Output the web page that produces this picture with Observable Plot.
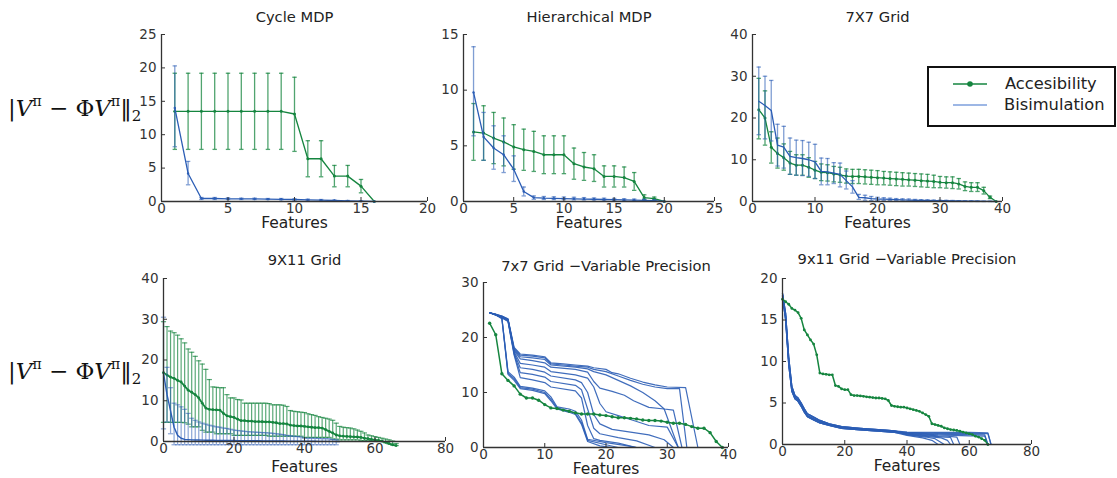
<!DOCTYPE html>
<html>
<head>
<meta charset="utf-8">
<script src="https://cdn.jsdelivr.net/npm/d3@7"></script>
<script src="https://cdn.jsdelivr.net/npm/@observablehq/plot@0.6"></script>
<style>
  body { margin: 0; background: #fff; }
  #root { position: relative; width: 1117px; height: 478px; overflow: hidden; font-family: "DejaVu Sans", sans-serif; }
  .panel { position: absolute; }
  .ylab { position: absolute; font-family: "DejaVu Serif", serif; font-size: 23px; color: #111; white-space: nowrap; line-height: 26px; }
  .ylab sup { font-size: 14px; vertical-align: 10px; }
  .ylab sub { font-size: 15px; vertical-align: -5px; }
  .legend { position: absolute; box-sizing: border-box; border: 2px solid #111; background: #fff; }
  .legend span { position: absolute; font-size: 16.3px; color: #222; line-height: 18px; white-space: nowrap; }
</style>
</head>
<body>
<div id="root"></div>
<script>
// ---------------- DATA ----------------
// Cycle MDP (features 1..16)
const cycleFeatures = d3.range(1, 17);
const cycleAcc   = [13.5,13.5,13.5,13.5,13.5,13.5,13.5,13.5,13.5,13.1,6.4,6.4,3.8,3.8,2.3,0];
const cycleAccLo = [7.8,7.8,7.8,7.8,7.8,7.8,7.8,7.8,7.8,7.5,3.7,3.7,2.2,2.2,1.3,0];
const cycleAccHi = [19.2,19.2,19.2,19.2,19.2,19.2,19.2,19.2,19.2,18.6,9.1,9.1,5.4,5.4,3.3,0];
const cycleBis   = [14.0,4.2,0.45,0.45,0.4,0.4,0.38,0.35,0.33,0.3,0.25,0.2,0.15,0.1,0.05,0];
const cycleBisLo = [8.2,2.5,0.3,0.3,0.3,0.3,0.3,0.3,0.25,0.2,0.15,0.12,0.1,0.06,0.03,0];
const cycleBisHi = [20.3,6.0,0.6,0.6,0.55,0.5,0.5,0.45,0.45,0.4,0.35,0.3,0.2,0.15,0.08,0];

// Hierarchical MDP (features 1..20)
const hierFeatures = d3.range(1, 21);
const hierAcc   = [6.25,6.15,5.7,5.35,4.9,4.65,4.5,4.2,4.2,4.2,3.4,3.1,2.95,2.25,2.25,2.15,1.8,0.35,0.25,0];
const hierAccLo = [3.7,3.7,3.4,3.2,2.9,2.8,2.7,2.5,2.5,2.5,2.0,1.9,1.8,1.3,1.3,1.3,1.0,0.2,0.15,0];
const hierAccHi = [8.8,8.6,8.0,7.5,6.9,6.5,6.3,5.9,5.9,5.9,4.8,4.4,4.2,3.2,3.2,3.1,2.6,0.6,0.4,0];
const hierBis   = [9.8,5.8,4.8,4.2,2.9,0.9,0.35,0.3,0.28,0.26,0.24,0.22,0.2,0.18,0.16,0.14,0.12,0.1,0.08,0];
const hierBisLo = [5.9,3.7,2.9,2.6,1.8,0.5,0.2,0.18,0.17,0.16,0.15,0.14,0.13,0.12,0.1,0.09,0.08,0.06,0.05,0];
const hierBisHi = [13.9,8.0,6.8,5.9,4.1,1.3,0.5,0.45,0.42,0.4,0.38,0.35,0.32,0.3,0.28,0.25,0.22,0.2,0.15,0];

// 7X7 Grid (features 1..39)
const gridFeatures = d3.range(1, 40);
const gridAcc   = [22.0,20.0,13.0,11.5,10.5,9.2,8.7,8.7,8.2,7.5,7.0,6.9,6.6,6.4,6.1,6.0,6.0,5.9,5.8,5.7,5.6,5.5,5.4,5.3,5.2,5.1,5.0,4.9,4.8,4.6,4.5,4.5,4.2,3.6,3.4,3.4,2.6,1.0,0];
const gridAccHi = [29.5,26.5,16.7,15.2,13.8,12.0,11.2,11.2,10.5,9.6,9.0,8.8,8.4,8.2,7.8,7.7,7.7,7.6,7.5,7.4,7.2,7.1,7.0,6.9,6.8,6.7,6.6,6.5,6.3,6.0,5.9,5.9,5.5,4.7,4.5,4.5,3.4,1.3,0];
const gridAccLo = [15.0,13.5,9.2,8.0,7.5,6.5,6.3,6.3,5.8,5.5,5.0,4.9,4.7,4.6,4.4,4.3,4.3,4.2,4.1,4.0,4.0,3.9,3.8,3.7,3.7,3.6,3.5,3.4,3.3,3.3,3.2,3.1,3.0,2.6,2.4,2.4,1.8,0.7,0];
const gridBis   = [24.0,23.0,21.8,13.5,13.0,10.8,10.5,10.3,10.0,9.5,7.2,7.1,6.8,6.5,5.0,3.5,1.0,0.9,0.7,0.6,0.55,0.5,0.45,0.4,0.35,0.3,0.28,0.25,0.22,0.2,0.18,0.15,0.12,0.1,0.08,0.06,0.04,0.02,0];
const gridBisHi = [32.2,30.0,29.0,18.5,18.0,15.2,14.7,14.6,14.2,13.7,10.4,10.3,9.3,9.2,7.3,5.0,1.7,1.5,1.2,1.0,0.9,0.8,0.7,0.65,0.6,0.5,0.45,0.4,0.35,0.3,0.28,0.25,0.2,0.18,0.15,0.12,0.08,0.05,0];
const gridBisLo = [16.0,15.0,14.5,8.5,8.0,6.5,6.3,6.2,6.0,5.5,4.0,4.0,4.3,3.5,3.0,2.0,0.5,0.3,0.2,0.2,0.2,0.2,0.2,0.15,0.1,0.1,0.1,0.1,0.1,0.1,0.08,0.05,0.04,0.03,0.02,0.01,0,0,0];

// 9X11 Grid (features 0..66 / 0..50)
const big9Features = d3.range(0, 67);
const acc9   = [16.9,16.3,15.8,15.5,15.0,14.6,13.6,12.6,12.1,11.5, 10.7,9.4,8.2,7.9,7.8,7.75,7.7,6.9,6.3,6.1, 5.9,5.5,5.1,5.1,5.0,5.0,4.9,4.9,4.85,4.8, 4.8,4.7,4.6,4.4,4.4,4.3,4.0,3.9,3.8,3.8, 3.7,3.6,3.5,3.4,3.4,3.3,2.9,2.5,2.1,1.6, 1.4,1.3,1.25,1.2,1.15,1.1,1.0,0.8,0.7,0.5, 0.4,0.3,0.1,-0.2,-0.5,-0.8,-1.0];
const acc9Hi = [29.4,28.2,27.1,26.7,26.1,25.2,24.2,22.7,21.9,20.9, 19.8,19.0,17.7,15.2,13.4,13.3,13.2,13.2,11.5,10.7, 10.7,10.3,10.2,9.4,9.4,9.4,9.4,9.4,9.4,9.4, 9.3,9.0,9.0,9.0,8.9,8.6,7.6,7.4,7.3,7.2, 7.1,6.8,6.6,6.4,6.1,5.9,5.7,5.5,5.2,4.5, 3.7,3.5,3.4,3.3,3.1,2.8,2.5,2.1,1.6,1.4, 1.2,1.0,0.8,0.6,0.4,0.1,-0.5];
const acc9Lo = [4.7,4.7,4.7,4.7,4.7,4.7,4.6,4.25,3.6,3.6, 3.6,2.75,2.3,2.3,2.3,1.9,1.9,1.9,1.9,1.9, 1.5,1.5,1.5,1.5,1.5,1.5,1.5,1.5,1.5,1.5, 1.3,1.3,1.3,1.3,1.3,1.3,1.3,1.3,1.3,1.3, 1.0,1.0,1.0,1.0,1.0,1.0,1.0,1.0,0.6,0.6, 0.4,0.4,0.4,0.4,0.4,0.4,0.2,0.2,0.2,0.2, 0,0,0,-0.3,-0.6,-0.9,-1.0];
const bis9Features = d3.range(0, 51);
const bis9   = [16.8,11.5,7.5,3.5,1.5,0.8,0.5,0.45,0.4,0.38, 0.36,0.34,0.32,0.3,0.29,0.28,0.27,0.26,0.25,0.24, 0.23,0.22,0.21,0.2,0.2,0.19,0.18,0.17,0.16,0.15, 0.15,0.14,0.13,0.12,0.11,0.1,0.1,0.09,0.08,0.07, 0.06,0.06,0.05,0.05,0.04,0.04,0.03,0.03,0.02,0.01, 0];
const bis9Hi = [30.5,18.2,13.2,9.4,9.0,8.5,7.9,6.9,5.7,5.2, 4.8,4.5,4.25,4.0,3.8,3.6,3.5,3.3,3.2,3.0, 2.8,2.7,2.6,2.5,2.4,2.35,2.3,2.25,2.2,2.15, 2.1,2.0,1.9,1.8,1.7,1.5,1.4,1.3,1.2,1.1, 0.8,0.8,0.8,0.8,0.75,0.7,0.7,0.65,0.5,0.4, 0];
const bis9Lo = [3.1,4.8,1.9,-0.8,-0.8,-0.8,-0.8,-0.8,-0.8,-0.8, -0.8,-0.8,-0.8,-0.8,-0.8,-0.8,-0.8,-0.8,-0.8,-0.8, -0.8,-0.8,-0.8,-0.8,-0.8,-0.8,-0.8,-0.8,-0.8,-0.8, -0.8,-0.8,-0.8,-0.8,-0.8,-0.8,-0.8,-0.8,-0.8,-0.8, -0.8,-0.8,-0.8,-0.8,-0.8,-0.8,-0.8,-0.8,-0.8,-0.8, 0];

// 7x7 Grid - Variable Precision
const vp7Features = d3.range(1, 40);
const vp7Acc = [22.6,20.5,13.4,12.2,11.2,9.7,9.0,9.0,8.6,7.8, 7.2,7.1,6.8,6.6,6.3,6.1,6.1,6.1,5.9,5.8, 5.6,5.4,5.4,5.3,5.2,5.0,4.9,4.9,4.8,4.6, 4.4,4.4,4.2,3.8,3.5,3.5,2.7,1.1,0];
const vp7Bis = [
  [[1,24.5],[2,24.2],[3,23.9],[4,23.4],[5,18.2],[6,17.0],[8,16.8],[10,16.5],[11,15.4],[13,15.2],[15,15.0],[17,14.8],[18,14.5],[20,14.2],[21,13.6],[22,13.4],[24,12.6],[26,11.9],[28,11.4],[30,11.0],[33,10.9],[35,0]],
  [[1,24.5],[2,24.2],[3,23.9],[4,23.3],[5,18.0],[6,16.8],[8,16.6],[10,16.3],[11,15.2],[13,15.0],[15,14.8],[17,14.6],[18,14.2],[20,13.8],[22,13.0],[24,12.2],[26,11.5],[28,11.0],[30,10.7],[32,10.7],[33.2,0],[35,0]],
  [[1,24.5],[2,24.2],[3,23.8],[4,23.3],[5,17.8],[6,16.5],[8,16.3],[10,16.0],[11,15.0],[15,14.6],[17,14.3],[18,13.8],[20,13.2],[22,12.2],[24,11.2],[26,10.0],[28,8.5],[29.5,7.0],[31,6.8],[32.4,0],[35,0]],
  [[1,24.5],[2,24.1],[3,23.8],[4,23.2],[5,17.6],[6,16.1],[8,15.8],[10,15.4],[11,14.6],[15,14.2],[17,13.7],[18,12.0],[19,10.8],[21,10.2],[23,9.5],[24.5,8.5],[27,7.3],[29.5,7.0],[31.8,0],[35,0]],
  [[1,24.5],[2,24.1],[3,23.7],[4,23.2],[5,17.4],[6,15.3],[8,15.0],[10,14.6],[11,13.8],[15,13.2],[17,12.6],[18,11.0],[19,8.0],[20,6.5],[22,5.8],[24.5,4.9],[27,4.0],[30,3.7],[31.8,0],[35,0]],
  [[1,24.5],[2,24.1],[3,23.7],[4,23.1],[5,17.2],[6,14.5],[8,14.2],[10,13.7],[11,13.0],[15,12.3],[16,11.8],[17,10.0],[18,6.0],[19,4.3],[21,3.3],[24,2.8],[27,2.3],[29.5,1.4],[31,0],[35,0]],
  [[1,24.5],[2,24.1],[3,23.6],[4,23.0],[5,17.0],[6,13.6],[8,13.3],[10,12.8],[11,12.0],[15,11.3],[16,10.5],[17,7.0],[18,3.5],[19,2.5],[22,1.8],[25,1.2],[28,0],[35,0]],
  [[1,24.5],[2,24.1],[3,23.6],[4,22.9],[5,16.8],[6,12.7],[8,12.3],[10,11.8],[11,11.0],[15,10.3],[16,9.0],[17,4.0],[18,1.6],[19,1.3],[22,0.8],[25,0],[35,0]],
  [[1,24.5],[2,24.2],[3,23.6],[4,13.8],[5,12.8],[6,11.1],[8,10.8],[10,10.3],[11,9.2],[12,7.4],[14,7.0],[15,6.6],[16,5.0],[17,1.5],[20,0.9],[23,0.4],[25,0],[35,0]],
  [[1,24.5],[2,24.2],[3,23.5],[4,13.5],[5,12.5],[6,10.9],[8,10.6],[10,10.0],[11,8.8],[12,7.2],[14,6.6],[15,6.2],[16,4.5],[17,1.3],[20,0.5],[22,0],[35,0]],
  [[1,24.5],[2,24.1],[3,23.4],[4,13.3],[5,12.2],[6,10.7],[8,10.4],[10,9.8],[11,8.5],[12,7.0],[14,6.4],[15,6.0],[16,4.2],[17,1.1],[19,0.3],[21,0],[35,0]]
];

// 9x11 Grid - Variable Precision
const vp9Features = d3.range(0, 67);
const vp9Acc = [17.5,17.2,16.9,16.4,16.2,15.9,15.2,13.8,13.2,12.6, 12.1,10.8,8.6,8.5,8.45,8.4,8.4,7.1,7.0,6.7, 6.6,6.6,6.0,5.9,5.9,5.85,5.8,5.75,5.7,5.65, 5.6,5.6,5.55,5.5,5.3,4.7,4.6,4.55,4.5,4.5, 4.4,4.3,4.2,4.1,4.0,3.8,3.6,3.4,2.5,2.4, 2.3,2.2,2.0,1.9,1.8,1.75,1.7,1.6,1.5,1.4, 1.3,1.2,1.0,0.9,0.7,0.5,0];
const vp9HeadA = [[0,18.2],[1,15.8],[2,10.5],[3,7.0],[4,5.9],[5,5.6],[6,5.0],[7,4.3],[8,3.7],[10,3.3],[12,2.9],[15,2.5],[19,2.15],[25,1.95],[33,1.75],[36,1.65]];
const vp9HeadB = [[0,18.0],[1,15.4],[2,10.0],[3,6.7],[4,5.7],[5,5.4],[6,4.8],[7,4.1],[8,3.5],[10,3.1],[12,2.75],[15,2.4],[19,2.05],[25,1.85],[33,1.65],[36,1.55]];
const vp9HeadC = [[0,17.8],[1,15.0],[2,9.6],[3,6.4],[4,5.5],[5,5.2],[6,4.6],[7,3.9],[8,3.35],[10,2.95],[12,2.6],[15,2.3],[19,1.95],[25,1.75],[33,1.55],[36,1.45]];
const vp9Tails = [
  [[40,1.5],[50,1.45],[60,1.45],[66,1.4],[67,0]],
  [[40,1.45],[50,1.35],[60,1.3],[66,1.3],[67,0]],
  [[40,1.4],[50,1.25],[60,1.2],[65,1.15],[66,0],[67,0]],
  [[40,1.35],[50,1.15],[60,1.05],[65,1.0],[66,0],[67,0]],
  [[40,1.3],[50,1.05],[53,1.0],[56,0.9],[57,0],[67,0]],
  [[40,1.25],[48,1.0],[52,0.9],[54,0.85],[55,0],[67,0]],
  [[40,1.2],[47,0.95],[51,0.8],[53,0.5],[54,0],[67,0]],
  [[40,1.15],[46,0.9],[49,0.7],[52,0],[67,0]],
  [[40,1.1],[45,0.8],[48,0.5],[50,0],[67,0]]
];

// ---------------- STYLE ----------------
const GREEN = "#15853f";
const BLUE = "#2b5db5";
const cap = { draw(ctx, size) { const r = Math.sqrt(size / Math.PI); ctx.moveTo(-r, 0); ctx.lineTo(r, 0); } };

function rowsOf(xs, ys, lo, hi) {
  return xs.map((x, i) => ({ x, y: ys[i], lo: lo ? lo[i] : undefined, hi: hi ? hi[i] : undefined }));
}
function errBars(rows, color, op, r, sw = 1) {
  const rs = rows.filter(d => d.hi > d.lo);
  return [
    Plot.ruleX(rs, { x: "x", y1: "lo", y2: "hi", stroke: color, strokeOpacity: op, strokeWidth: sw }),
    Plot.dot(rs, { x: "x", y: "lo", symbol: cap, r, stroke: color, strokeOpacity: op, fill: "none", strokeWidth: sw }),
    Plot.dot(rs, { x: "x", y: "hi", symbol: cap, r, stroke: color, strokeOpacity: op, fill: "none", strokeWidth: sw })
  ];
}
function seriesLine(rows, color, sw, dotR) {
  const m = [Plot.line(rows, { x: "x", y: "y", stroke: color, strokeWidth: sw })];
  if (dotR) m.push(Plot.dot(rows, { x: "x", y: "y", r: dotR, fill: color, stroke: "none" }));
  return m;
}
function multiLines(lines, color, sw, op) {
  const flat = [];
  lines.forEach((pts, id) => pts.forEach(([x, y]) => flat.push({ id, x, y })));
  return Plot.line(flat, { x: "x", y: "y", z: "id", stroke: color, strokeWidth: sw, strokeOpacity: op });
}

const root = document.getElementById("root");

function panel({ x0, x1, yb, yt, xDomain, yDomain, xTicks, yTicks, title, titleDy, featDy, marks }) {
  const ml = 40, mr = 16, mt = 36, mb = 44;
  const W = ml + (x1 - x0) + mr, H = mt + (yb - yt) + mb;
  const svg = Plot.plot({
    width: W, height: H,
    marginLeft: ml, marginRight: mr, marginTop: mt, marginBottom: mb,
    x: { domain: xDomain },
    y: { domain: yDomain },
    style: { fontFamily: "DejaVu Sans", fontSize: "13px", color: "#222", background: "transparent", overflow: "visible" },
    marks: [
      ...marks,
      Plot.ruleX([xDomain[0]], { y1: yDomain[0], y2: yDomain[1], stroke: "#333", strokeWidth: 1.3 }),
      Plot.ruleY([yDomain[0]], { x1: xDomain[0], x2: xDomain[1], stroke: "#333", strokeWidth: 1.3 }),
      Plot.axisX({ ticks: xTicks, tickSize: -4, tickPadding: 6, label: null, color: "#333", fontSize: 13.5 }),
      Plot.axisY({ ticks: yTicks, tickSize: -4, tickPadding: 9, label: null, color: "#333", fontSize: 13.5 }),
      Plot.text([title], { frameAnchor: "top", lineAnchor: "middle", dy: titleDy, fontSize: 14.7, fill: "#222" }),
      Plot.text(["Features"], { frameAnchor: "bottom", lineAnchor: "middle", dy: featDy, fontSize: 15.5, fill: "#222" })
    ]
  });
  const div = document.createElement("div");
  div.className = "panel";
  div.style.left = (x0 - ml) + "px";
  div.style.top = (yt - mt) + "px";
  div.appendChild(svg);
  root.appendChild(div);
}

// Panel 1: Cycle MDP
panel({
  x0: 161, x1: 427, yb: 200.5, yt: 33.5, xDomain: [0, 20], yDomain: [0, 25],
  xTicks: [0, 5, 10, 15, 20], yTicks: [0, 5, 10, 15, 20, 25], title: "Cycle MDP", titleDy: -17, featDy: 21.5,
  marks: [
    ...errBars(rowsOf(cycleFeatures, cycleAcc, cycleAccLo, cycleAccHi), GREEN, 0.75, 2.2, 1.3),
    ...seriesLine(rowsOf(cycleFeatures, cycleAcc), GREEN, 1.3, 1.5),
    ...errBars(rowsOf(cycleFeatures, cycleBis, cycleBisLo, cycleBisHi), BLUE, 0.6, 2.2, 1.3),
    ...seriesLine(rowsOf(cycleFeatures, cycleBis), BLUE, 1.3, 1.2)
  ]
});

// Panel 2: Hierarchical MDP
panel({
  x0: 463, x1: 714, yb: 200.5, yt: 33.5, xDomain: [0, 25], yDomain: [0, 15],
  xTicks: [0, 5, 10, 15, 20, 25], yTicks: [0, 5, 10, 15], title: "Hierarchical MDP", titleDy: -17, featDy: 21.5,
  marks: [
    ...errBars(rowsOf(hierFeatures, hierAcc, hierAccLo, hierAccHi), GREEN, 0.75, 2.2, 1.3),
    ...seriesLine(rowsOf(hierFeatures, hierAcc), GREEN, 1.3, 1.5),
    ...errBars(rowsOf(hierFeatures, hierBis, hierBisLo, hierBisHi), BLUE, 0.6, 2.2, 1.3),
    ...seriesLine(rowsOf(hierFeatures, hierBis), BLUE, 1.3, 1.2)
  ]
});

// Panel 3: 7X7 Grid
panel({
  x0: 752, x1: 1002, yb: 200.5, yt: 33.5, xDomain: [0, 40], yDomain: [0, 40],
  xTicks: [0, 10, 20, 30, 40], yTicks: [0, 10, 20, 30, 40], title: "7X7 Grid", titleDy: -17, featDy: 21.5,
  marks: [
    ...errBars(rowsOf(gridFeatures, gridAcc, gridAccLo, gridAccHi), GREEN, 0.75, 2.2, 1.3),
    ...seriesLine(rowsOf(gridFeatures, gridAcc), GREEN, 1.3, 1.5),
    ...errBars(rowsOf(gridFeatures, gridBis, gridBisLo, gridBisHi), BLUE, 0.6, 2.2, 1.3),
    ...seriesLine(rowsOf(gridFeatures, gridBis), BLUE, 1.3, 0)
  ]
});

// Panel 4: 9X11 Grid
panel({
  x0: 163, x1: 445, yb: 441, yt: 278, xDomain: [0, 80], yDomain: [0, 40],
  xTicks: [0, 20, 40, 60, 80], yTicks: [0, 10, 20, 30, 40], title: "9X11 Grid", titleDy: -18, featDy: 26,
  marks: [
    ...errBars(rowsOf(big9Features, acc9, acc9Lo, acc9Hi), GREEN, 0.7, 2.6, 1.2),
    ...seriesLine(rowsOf(big9Features, acc9), GREEN, 1.8, 1.4),
    ...errBars(rowsOf(bis9Features, bis9, bis9Lo, bis9Hi), BLUE, 0.55, 2.6, 1.2),
    ...seriesLine(rowsOf(bis9Features, bis9), BLUE, 1.4, 0)
  ]
});

// Panel 5: 7x7 Grid - Variable Precision
panel({
  x0: 483, x1: 728, yb: 447, yt: 282, xDomain: [0, 40], yDomain: [0, 30],
  xTicks: [0, 10, 20, 30, 40], yTicks: [0, 10, 20, 30], title: "7x7 Grid \u2212Variable Precision", titleDy: -16, featDy: 22,
  marks: [
    multiLines(vp7Bis, BLUE, 1.2, 0.9),
    ...seriesLine(rowsOf(vp7Features, vp7Acc), GREEN, 1.5, 1.7)
  ]
});

// Panel 6: 9x11 Grid - Variable Precision
const vp9Heads = [vp9HeadA, vp9HeadB, vp9HeadC];
const vp9Bis = vp9Tails.map((t, i) => vp9Heads[i % 3].concat(t));
panel({
  x0: 782, x1: 1031, yb: 444, yt: 278, xDomain: [0, 80], yDomain: [0, 20],
  xTicks: [0, 20, 40, 60, 80], yTicks: [0, 5, 10, 15, 20], title: "9x11 Grid \u2212Variable Precision", titleDy: -19, featDy: 22,
  marks: [
    multiLines(vp9Bis, BLUE, 1.2, 0.9),
    ...seriesLine(rowsOf(vp9Features, vp9Acc), GREEN, 1.5, 1.4)
  ]
});

// Y labels
function ylab(top) {
  const d = document.createElement("div");
  d.className = "ylab";
  d.style.left = "8px";
  d.style.top = top + "px";
  d.innerHTML = "|<i>V</i><sup>\u03c0</sup> \u2212 \u03a6<i>V</i><sup>\u03c0</sup>\u2016<sub>2</sub>";
  root.appendChild(d);
}
ylab(88);
ylab(351);

// Legend
const leg = document.createElement("div");
leg.className = "legend";
leg.style.left = "927px"; leg.style.top = "66px"; leg.style.width = "189px"; leg.style.height = "61px";
leg.innerHTML =
  '<svg width="70" height="57" style="position:absolute;left:0;top:0">' +
  '<line x1="24" x2="58" y1="16" y2="16" stroke="' + GREEN + '" stroke-width="1.6"/>' +
  '<circle cx="41" cy="16" r="2.8" fill="' + GREEN + '"/>' +
  '<line x1="24" x2="58" y1="37" y2="37" stroke="#7d9fdc" stroke-width="1.3"/></svg>' +
  '<span style="left:76px;top:7px">Accesibility</span>' +
  '<span style="left:75px;top:28px">Bisimulation</span>';
root.appendChild(leg);
</script>
</body>
</html>
